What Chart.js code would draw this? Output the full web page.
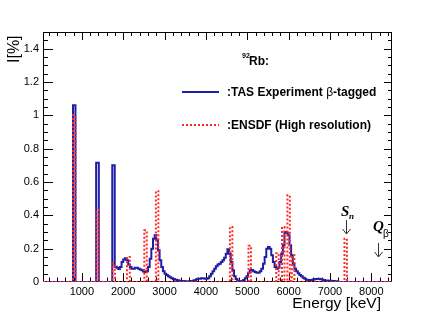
<!DOCTYPE html>
<html>
<head>
<meta charset="utf-8">
<script src="https://cdn.jsdelivr.net/npm/chart.js@4.4.1/dist/chart.umd.min.js"></script>
<style>
  html, body { margin: 0; padding: 0; background: #fff; }
</style>
</head>
<body>
<canvas id="spectrum" width="436" height="314"></canvas>
<script>
// TAS experiment (beta-tagged): bin low edges [keV] and intensity [%]
const tasEnergy = [60, 785, 845, 1345, 1410, 1735, 1795, 1840, 1880, 1920, 1960, 2000, 2040, 2080, 2120, 2160,
  2200, 2240, 2280, 2320, 2360, 2400, 2440, 2480, 2520, 2560, 2600, 2640, 2680, 2720, 2760, 2800, 2840, 2880,
  2920, 2960, 3000, 3040, 3080, 3120, 3160, 3200, 3250, 3300, 3350, 3400, 3480, 3560, 3640, 3700, 3760, 3800,
  3880, 3960, 4040, 4080, 4120, 4160, 4200, 4240, 4280, 4320, 4360, 4400, 4440, 4480, 4520, 4560, 4600, 4640,
  4680, 4720, 4760, 4800, 4860, 4900, 4940, 4980, 5020, 5060, 5100, 5140, 5180, 5220, 5260, 5300, 5340, 5380,
  5420, 5460, 5500, 5540, 5580, 5620, 5660, 5700, 5740, 5780, 5820, 5860, 5900, 5940, 5980, 6020, 6060, 6100,
  6140, 6180, 6220, 6260, 6300, 6340, 6380, 6420, 6460, 6520, 6580, 6640, 6700, 6760, 6820, 6880, 6960, 7040,
  7120, 7200, 8500];
const tasValue = [0, 1.06, 0, 0.715, 0, 0.70, 0.092, 0.085, 0.078, 0.09, 0.12, 0.135, 0.142, 0.13, 0.105, 0.09,
  0.08, 0.08, 0.085, 0.085, 0.08, 0.075, 0.07, 0.063, 0.06, 0.065, 0.09, 0.14, 0.2, 0.26, 0.28, 0.25, 0.19, 0.13,
  0.09, 0.065, 0.05, 0.042, 0.035, 0.028, 0.022, 0.018, 0.014, 0.01, 0.008, 0.006, 0.004, 0.004, 0.006, 0.01, 0.016, 0.02,
  0.022, 0.02, 0.022, 0.035, 0.05, 0.065, 0.08, 0.095, 0.105, 0.11, 0.12, 0.13, 0.145, 0.17, 0.196, 0.17, 0.12, 0.07,
  0.035, 0.018, 0.008, 0.004, 0.006, 0.012, 0.022, 0.035, 0.055, 0.07, 0.072, 0.065, 0.06, 0.055, 0.055, 0.065, 0.08, 0.11,
  0.15, 0.2, 0.21, 0.2, 0.16, 0.12, 0.09, 0.08, 0.085, 0.12, 0.17, 0.22, 0.3, 0.295, 0.28, 0.22, 0.16, 0.11,
  0.08, 0.065, 0.052, 0.042, 0.034, 0.026, 0.02, 0.014, 0.012, 0.012, 0.015, 0.018, 0.02, 0.017, 0.012, 0.009, 0.007, 0.006,
  0.005, 0, 0];

// ENSDF (high resolution): bin low edges [keV] and intensity [%]
const ensdfEnergy = [60, 785, 845, 1350, 1410, 1740, 1800, 2090, 2160, 2510, 2570, 2790, 2850, 4580, 4640,
  5030, 5090, 5700, 5760, 5840, 5900, 5970, 6030, 6080, 6140, 7350, 7410, 8500];
const ensdfValue = [0, 1.0, 0, 0.43, 0, 0.11, 0, 0.15, 0, 0.31, 0, 0.545, 0, 0.33, 0,
  0.217, 0, 0.172, 0, 0.33, 0, 0.52, 0, 0.16, 0, 0.26, 0, 0];

const xTicks = [1000, 2000, 3000, 4000, 5000, 6000, 7000, 8000];
const yTicks = [0, 0.2, 0.4, 0.6, 0.8, 1.0, 1.2, 1.4];
const snEnergy = 7390;   // neutron separation energy marker
const qbEnergy = 8160;   // Q-beta marker

const BLUE = '#1e1ea6';
const RED = '#ff2a2a';
const SANS = '"Liberation Sans", Arial, sans-serif';
const SERIF = '"Liberation Serif", "Times New Roman", serif';

function toPoints(xs, ys) {
  return xs.map((x, i) => ({ x: x, y: ys[i] }));
}

// frame + inward ticks on all four sides, ROOT style
const framePlugin = {
  id: 'frame',
  beforeDatasetsDraw(chart) {
    const { ctx, chartArea: a, scales } = chart;
    const xs = scales.x, ys = scales.y;
    ctx.save();
    ctx.strokeStyle = '#000';
    ctx.lineWidth = 1;
    ctx.strokeRect(a.left + 0.5, a.top + 0.5, a.right - a.left - 1, a.bottom - a.top - 1);
    ctx.beginPath();
    for (let e = 200; e < xs.max; e += 200) {
      const px = Math.round(xs.getPixelForValue(e)) + 0.5;
      const major = e % 1000 === 0;
      ctx.moveTo(px, a.bottom);
      ctx.lineTo(px, a.bottom - (major ? 9 : 4.5));
      ctx.moveTo(px, a.top);
      ctx.lineTo(px, a.top + (major ? 8 : 4));
    }
    for (let k = 1; k * 0.05 < ys.max; k++) {
      const py = Math.round(ys.getPixelForValue(k * 0.05)) + 0.5;
      const major = k % 4 === 0;
      ctx.moveTo(a.left, py);
      ctx.lineTo(a.left + (major ? 10 : 5), py);
      ctx.moveTo(a.right, py);
      ctx.lineTo(a.right - (major ? 8 : 4), py);
    }
    ctx.stroke();
    ctx.restore();
  }
};

function arrow(ctx, x, y1, y2) {
  ctx.beginPath();
  ctx.moveTo(x, y1);
  ctx.lineTo(x, y2);
  ctx.moveTo(x - 4, y2 - 5);
  ctx.lineTo(x, y2);
  ctx.lineTo(x + 4, y2 - 5);
  ctx.stroke();
}

// legend, axis titles and S_n / Q_beta markers
const overlayPlugin = {
  id: 'overlay',
  afterDraw(chart) {
    const { ctx, scales } = chart;
    ctx.save();
    ctx.fillStyle = '#000';
    ctx.textBaseline = 'alphabetic';

    // axis titles
    ctx.font = '15.5px ' + SANS;
    ctx.textAlign = 'right';
    ctx.fillText('Energy [keV]', 381, 308);
    ctx.save();
    ctx.translate(19, 63);
    ctx.rotate(-Math.PI / 2);
    ctx.textAlign = 'left';
    ctx.font = '16px ' + SANS;
    ctx.fillText('I[%]', 0, 0);
    ctx.restore();

    // legend
    ctx.textAlign = 'left';
    ctx.font = 'bold 7px ' + SANS;
    ctx.fillText('92', 242, 58);
    ctx.font = 'bold 12px ' + SANS;
    ctx.fillText('Rb:', 249, 65);

    ctx.lineWidth = 2;
    ctx.strokeStyle = BLUE;
    ctx.beginPath();
    ctx.moveTo(182, 92);
    ctx.lineTo(219, 92);
    ctx.stroke();
    ctx.strokeStyle = RED;
    ctx.setLineDash([2, 2]);
    ctx.beginPath();
    ctx.moveTo(182, 125);
    ctx.lineTo(219, 125);
    ctx.stroke();
    ctx.setLineDash([]);

    let x = 227;
    ctx.font = 'bold 12px ' + SANS;
    ctx.fillText(':TAS Experiment ', x, 96);
    x += ctx.measureText(':TAS Experiment ').width;
    ctx.font = '12px ' + SANS;
    ctx.fillText('\u03b2', x, 96);
    x += ctx.measureText('\u03b2').width;
    ctx.font = 'bold 12px ' + SANS;
    ctx.fillText('-tagged', x, 96);
    ctx.fillText(':ENSDF (High resolution)', 227, 129);

    // S_n and Q_beta markers
    const sx = scales.x.getPixelForValue(snEnergy);
    const qx = scales.x.getPixelForValue(qbEnergy);
    ctx.font = 'italic bold 15px ' + SERIF;
    ctx.fillText('S', sx - 5, 216);
    ctx.font = 'italic bold 9px ' + SERIF;
    ctx.fillText('n', sx + 3, 219);
    ctx.font = 'italic bold 15px ' + SERIF;
    ctx.fillText('Q', qx - 5, 231);
    ctx.font = '10px ' + SANS;
    ctx.fillText('\u03b2', qx + 5, 237);

    ctx.strokeStyle = '#333';
    ctx.lineWidth = 1;
    arrow(ctx, Math.round(sx) + 0.5, 220, 234);
    arrow(ctx, Math.round(qx) + 0.5, 243, 257);
    ctx.restore();
  }
};

new Chart(document.getElementById('spectrum'), {
  type: 'line',
  data: {
    datasets: [
      {
        label: 'TAS Experiment \u03b2-tagged',
        data: toPoints(tasEnergy, tasValue),
        borderColor: BLUE,
        borderWidth: 2,
        stepped: true,
        pointRadius: 0,
        fill: false,
        order: 1
      },
      {
        label: 'ENSDF (High resolution)',
        data: toPoints(ensdfEnergy, ensdfValue),
        borderColor: RED,
        borderWidth: 2,
        borderDash: [2, 2],
        stepped: true,
        pointRadius: 0,
        fill: false,
        order: 0
      }
    ]
  },
  options: {
    responsive: false,
    devicePixelRatio: 1,
    animation: false,
    layout: { padding: { top: 32, right: 44, left: 0, bottom: 0 } },
    plugins: { legend: { display: false }, tooltip: { enabled: false } },
    scales: {
      x: {
        type: 'linear',
        min: 60,
        max: 8500,
        afterBuildTicks: s => { s.ticks = xTicks.map(v => ({ value: v })); },
        afterFit: s => { s.height = 32; },
        grid: { display: false, drawTicks: false, tickLength: 0 },
        border: { display: false },
        ticks: {
          font: { family: SANS, size: 11 },
          color: '#000',
          padding: 3,
          maxRotation: 0,
          autoSkip: false,
          callback: v => String(v)
        }
      },
      y: {
        type: 'linear',
        min: 0,
        max: 1.5,
        afterBuildTicks: s => { s.ticks = yTicks.map(v => ({ value: v })); },
        afterFit: s => { s.width = 43; },
        grid: { display: false, drawTicks: false, tickLength: 0 },
        border: { display: false },
        ticks: {
          font: { family: SANS, size: 11 },
          color: '#000',
          padding: 4,
          autoSkip: false,
          callback: v => String(Math.round(v * 10) / 10)
        }
      }
    }
  },
  plugins: [framePlugin, overlayPlugin]
});
</script>
</body>
</html>
